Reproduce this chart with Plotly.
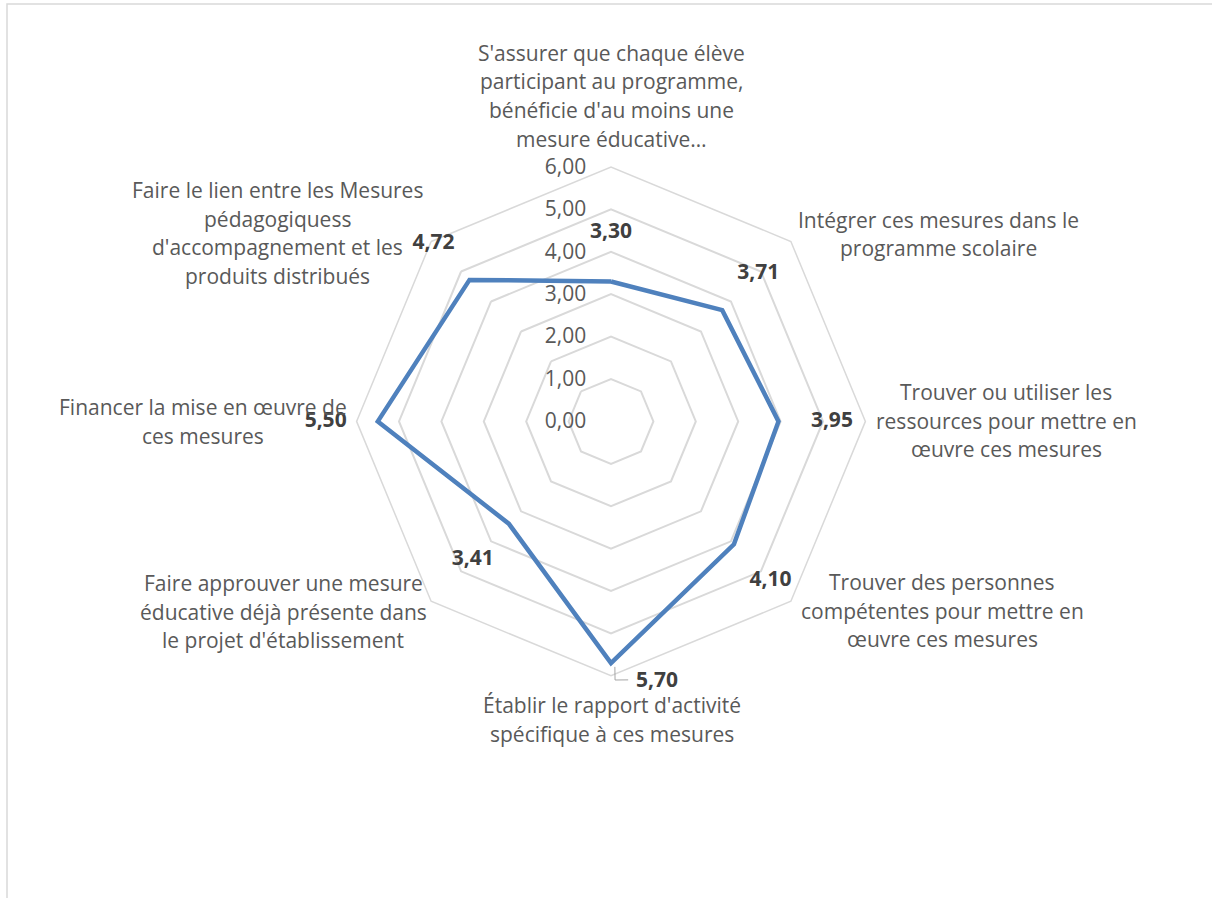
import plotly.graph_objects as go

# ---------------- data ----------------
categories = [
    "S'assurer que chaque élève participant au programme, bénéficie d'au moins une mesure éducative…",
    "Intégrer ces mesures dans le programme scolaire",
    "Trouver ou utiliser les ressources pour mettre en œuvre ces mesures",
    "Trouver des personnes compétentes pour mettre en œuvre ces mesures",
    "Établir le rapport d'activité spécifique à ces mesures",
    "Faire approuver une mesure éducative déjà présente dans le projet d'établissement",
    "Financer la mise en œuvre de ces mesures",
    "Faire le lien entre les Mesures pédagogiquess d'accompagnement et les produits distribués",
]
category_lines = [
    ["S'assurer que chaque élève", "participant au programme,", "bénéficie d'au moins une", "mesure éducative…"],
    ["Intégrer ces mesures dans le", "programme scolaire"],
    ["Trouver ou utiliser les", "ressources pour mettre en", "œuvre ces mesures"],
    ["Trouver des personnes", "compétentes pour mettre en", "œuvre ces mesures"],
    ["Établir le rapport d'activité", "spécifique à ces mesures"],
    ["Faire approuver une mesure", "éducative déjà présente dans", "le projet d'établissement"],
    ["Financer la mise en œuvre de", "ces mesures"],
    ["Faire le lien entre les Mesures", "pédagogiquess", "d'accompagnement et les", "produits distribués"],
]
values = [3.30, 3.71, 3.95, 4.10, 5.70, 3.41, 5.50, 4.72]
radial_ticks = [0, 1, 2, 3, 4, 5, 6]

# ---------------- layout / style constants ----------------
W, H = 1212, 898
CX, CY, R = 611, 421.4, 254.4          # polar centre and outer radius (px)
RMAX = 6
RMAX2 = 8                              # wider range of the overlay subplot
LINE_COLOR = "#4F81BD"
GRID_COLOR = "#D9D9D9"
TEXT_COLOR = "#595959"
LABEL_COLOR = "#404040"
FONT = "Open Sans"
FS = 21
LINE_STEP = 28.5

# category label anchors: centre x, first line centre y (px)
label_anchor = [(611, 53), (938, 220), (1006, 392), (942, 582),
                (612, 705), (283, 583), (203, 407), (277, 190)]
# data label placement (radial offset in data units, angle offset in degrees)
dlabel_dr = [1.16, 1.20, 1.26, 1.22, 0.54, 1.20, 1.23, 1.20]
dlabel_dtheta = [0, 0, 0, 0, -10, 0, 0, 0]
# leader line for the moved 5,70 label (r, theta)
leader_r = [5.79, 6.10, 6.11]
leader_theta = [179.1, 179.1, 176.2]

n = len(categories)


def domain(radius):
    return (dict(x=[(CX - radius) / W, (CX + radius) / W],
                 y=[1 - (CY + radius) / H, 1 - (CY - radius) / H]))


fig = go.Figure()

fig.add_trace(go.Scatterpolar(
    r=values + values[:1],
    theta=categories + categories[:1],
    mode="lines",
    line=dict(color=LINE_COLOR, width=4.5),
    subplot="polar",
    showlegend=False,
    hoverinfo="skip",
))

# data labels on an overlaid numeric polar subplot sharing the same px/unit scale
fig.add_trace(go.Scatterpolar(
    r=[v + d for v, d in zip(values, dlabel_dr)],
    theta=[i * 360 / n + dt for i, dt in enumerate(dlabel_dtheta)],
    mode="text",
    text=[f"{v:.2f}".replace(".", ",") for v in values],
    textposition="middle center",
    textfont=dict(family=FONT, size=FS, color=LABEL_COLOR, weight="bold"),
    subplot="polar2",
    showlegend=False,
    hoverinfo="skip",
))
fig.add_trace(go.Scatterpolar(
    r=leader_r, theta=leader_theta, mode="lines",
    line=dict(color="#A6A6A6", width=1),
    subplot="polar2", showlegend=False, hoverinfo="skip",
))

# category labels
annotations = []
for (ax, ay), lines in zip(label_anchor, category_lines):
    for k, line in enumerate(lines):
        annotations.append(dict(
            x=ax / W, y=1 - (ay + k * LINE_STEP) / H, xref="paper", yref="paper",
            text=line, showarrow=False, xanchor="center", yanchor="middle",
            font=dict(family=FONT, size=FS, color=TEXT_COLOR),
        ))

fig.update_layout(
    width=W, height=H,
    margin=dict(l=0, r=0, t=0, b=0),
    paper_bgcolor="white",
    plot_bgcolor="white",
    separators=", ",
    font=dict(family=FONT, size=FS, color=TEXT_COLOR),
    annotations=annotations,
    polar=dict(
        domain=domain(R),
        gridshape="linear",
        bgcolor="white",
        radialaxis=dict(
            range=[0, RMAX], tickvals=radial_ticks, tickformat=".2f",
            angle=90, tickangle=90, side="counterclockwise",
            showline=False, gridcolor=GRID_COLOR, gridwidth=1.5,
            ticks="outside", ticklen=17, tickcolor="rgba(0,0,0,0)",
            tickfont=dict(family=FONT, size=FS, color=TEXT_COLOR),
        ),
        angularaxis=dict(
            rotation=90, direction="clockwise",
            showticklabels=False, ticks="", showgrid=False,
            showline=True, linecolor=GRID_COLOR, linewidth=1.5,
        ),
    ),
    polar2=dict(
        domain=domain(R * RMAX2 / RMAX),
        bgcolor="rgba(0,0,0,0)",
        radialaxis=dict(range=[0, RMAX2], visible=False),
        angularaxis=dict(rotation=90, direction="clockwise", visible=False,
                         thetaunit="degrees"),
    ),
    shapes=[dict(type="rect", xref="paper", yref="paper",
                 x0=7 / W, x1=1.02, y0=-0.02, y1=1 - 4 / H,
                 line=dict(color=GRID_COLOR, width=1.5), layer="below")],
)

fig.write_html("out.html",
               config={"displayModeBar": False},
               post_script="document.body.style.margin='0';"
                           "document.body.style.overflow='hidden';")
